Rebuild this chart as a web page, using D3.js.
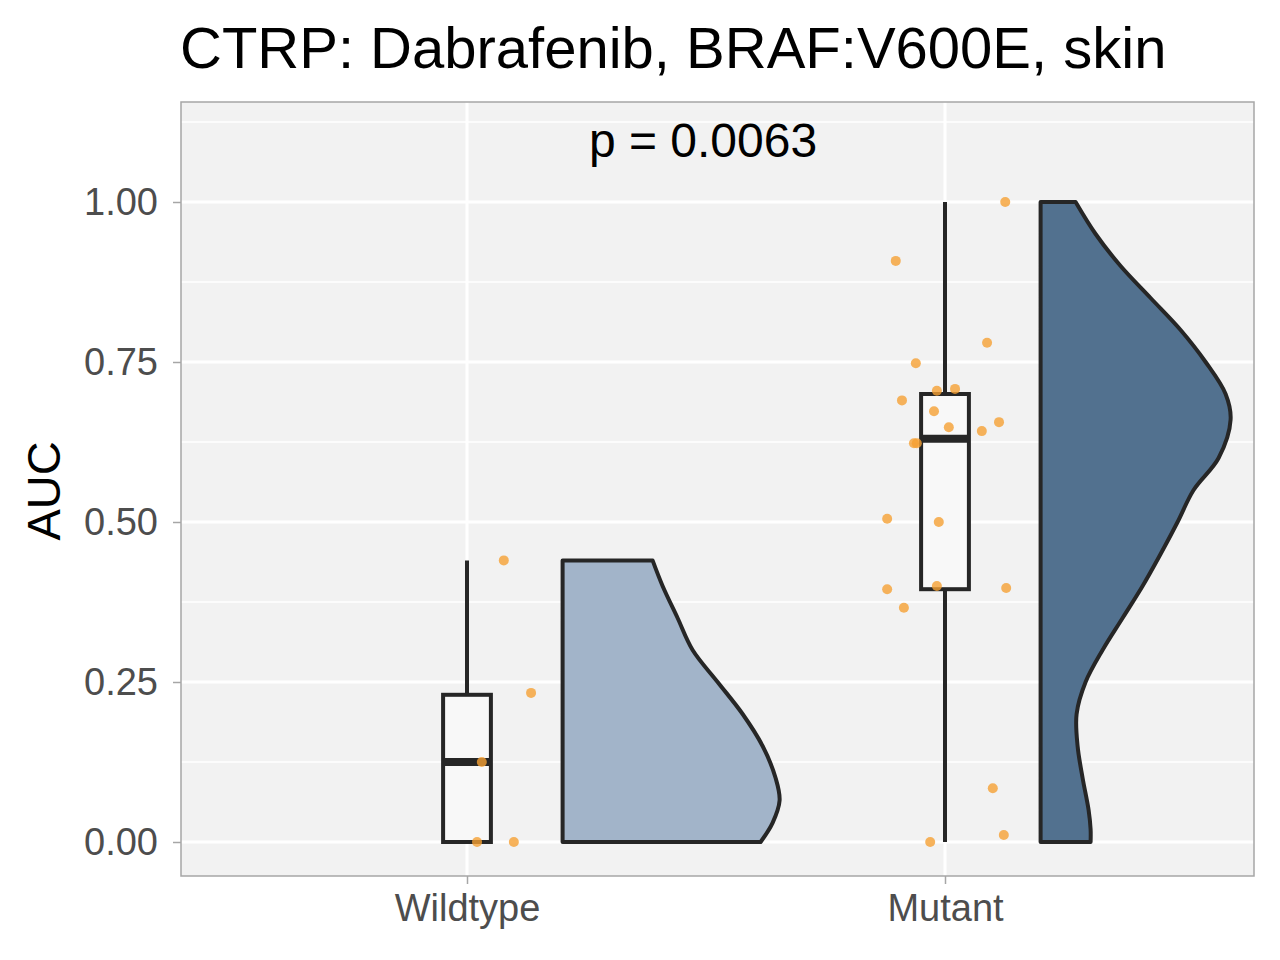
<!DOCTYPE html>
<html><head><meta charset="utf-8">
<script src="https://cdn.jsdelivr.net/npm/d3@7"></script>
<style>body{margin:0;background:#fff;font-family:"Liberation Sans",Arial,sans-serif;}</style>
</head><body>
<script>
var width = 1280, height = 960;
var categories = ["Wildtype", "Mutant"];
var yTicks = [0, 0.25, 0.5, 0.75, 1.0];
var yMinor = [0.125, 0.375, 0.625, 0.875, 1.125];

// box stats: [min, q1, median, q3, max]
var boxStats = [[0, 0, 0.125, 0.23, 0.44], [0, 0.395, 0.63, 0.70, 1.0]];

// half-violin profiles (y value, density width)
var violinY = [
  [0, 0.03, 0.065, 0.10, 0.15, 0.20, 0.25, 0.30, 0.35, 0.40, 0.44],
  [0, 0.02, 0.05, 0.10, 0.15, 0.20, 0.25, 0.30, 0.35, 0.40, 0.45, 0.50, 0.55, 0.60, 0.66, 0.70, 0.75, 0.80, 0.85, 0.90, 0.95, 1.0]
];
var violinD = [
  [198, 210, 217, 213, 200, 180, 155, 130, 115, 100, 90],
  [50, 50, 48, 42, 37, 36, 45, 62, 82, 102, 120, 137, 153, 178, 190, 185, 165, 140, 110, 80, 55, 35]
];
var violinFill = ["#a2b4c9", "#52718f"];

// points: values and jitter
var wtAUC = [0, 0, 0.125, 0.233, 0.44];
var wtJit = [0.021, 0.098, 0.031, 0.134, 0.077];
var mutAUC = [0.908, 1.0, 0.78, 0.748, 0.705, 0.708, 0.69, 0.673, 0.648, 0.642, 0.656, 0.623, 0.623, 0.505, 0.5, 0.395, 0.366, 0.40, 0.397, 0.084, 0.011, 0];
var mutJit = [-0.103, 0.126, 0.088, -0.061, -0.017, 0.021, -0.090, -0.023, 0.008, 0.077, 0.113, -0.065, -0.059, -0.121, -0.013, -0.121, -0.086, -0.017, 0.128, 0.100, 0.123, -0.031];

var panel = {l: 181, t: 102, r: 1254, b: 876};

var svg = d3.select("body").append("svg").attr("width", width).attr("height", height);

var x = d3.scaleLinear().domain([1, 2]).range([467, 945]);
var y = d3.scaleLinear().domain([0, 1]).range([842, 202]);
var w = d3.scaleLinear().domain([0, 478]).range([0, 1]);

svg.append("rect").attr("x", panel.l).attr("y", panel.t)
  .attr("width", panel.r - panel.l).attr("height", panel.b - panel.t).attr("fill", "#f2f2f2");

var g = svg.append("g");
g.selectAll(".minor").data(yMinor).enter().append("line")
  .attr("x1", panel.l).attr("x2", panel.r).attr("y1", d => y(d)).attr("y2", d => y(d))
  .attr("stroke", "#fff").attr("stroke-width", 1.5);
g.selectAll(".major").data(yTicks).enter().append("line")
  .attr("x1", panel.l).attr("x2", panel.r).attr("y1", d => y(d)).attr("y2", d => y(d))
  .attr("stroke", "#fff").attr("stroke-width", 3);
g.selectAll(".vx").data([1, 2]).enter().append("line")
  .attr("x1", d => x(d)).attr("x2", d => x(d)).attr("y1", panel.t).attr("y2", panel.b)
  .attr("stroke", "#fff").attr("stroke-width", 3);

// violins
var line = d3.line().curve(d3.curveCatmullRom);
violinY.forEach(function(ys, i) {
  var base = i + 1 + 0.2;
  var pts = [];
  ys.forEach(function(v, j) { pts.push([x(base + w(violinD[i][j])), y(v)]); });
  var path = "M" + x(base) + "," + y(ys[ys.length - 1]) + "L" + x(base) + "," + y(ys[0]) +
    "L" + line(pts).slice(1) + "Z";
  g.append("path").attr("d", path).attr("fill", violinFill[i])
    .attr("stroke", "#262626").attr("stroke-width", 4).attr("stroke-linejoin", "round");
});

// boxes
boxStats.forEach(function(s, i) {
  var c = i + 1, hw = 0.05;
  g.append("line").attr("x1", x(c)).attr("x2", x(c)).attr("y1", y(s[0])).attr("y2", y(s[4]))
    .attr("stroke", "#262626").attr("stroke-width", 4);
  g.append("rect").attr("x", x(c - hw)).attr("y", y(s[3]))
    .attr("width", x(c + hw) - x(c - hw)).attr("height", y(s[1]) - y(s[3]))
    .attr("fill", "#f8f8f8").attr("stroke", "#262626").attr("stroke-width", 4);
  g.append("line").attr("x1", x(c - hw)).attr("x2", x(c + hw)).attr("y1", y(s[2])).attr("y2", y(s[2]))
    .attr("stroke", "#262626").attr("stroke-width", 8);
});

// points
function dots(vals, jit, c) {
  g.selectAll(null).data(vals).enter().append("circle")
    .attr("cx", (d, i) => x(c + jit[i])).attr("cy", d => y(d)).attr("r", 5)
    .attr("fill", "#f5a033").attr("fill-opacity", 0.8);
}
dots(wtAUC, wtJit, 1);
dots(mutAUC, mutJit, 2);

svg.append("rect").attr("x", panel.l).attr("y", panel.t)
  .attr("width", panel.r - panel.l).attr("height", panel.b - panel.t)
  .attr("fill", "none").attr("stroke", "#a6a6a6").attr("stroke-width", 1.5);

// axes
var yAxis = svg.append("g").attr("transform", "translate(" + panel.l + ",0)")
  .call(d3.axisLeft(y).tickValues(yTicks).tickFormat(d3.format(".2f")).tickSize(8).tickPadding(15));
var xAxis = svg.append("g").attr("transform", "translate(0," + panel.b + ")")
  .call(d3.axisBottom(x).tickValues([1, 2]).tickFormat(d => categories[d - 1]).tickSize(8).tickPadding(10));
[yAxis, xAxis].forEach(function(a) {
  a.select(".domain").remove();
  a.selectAll(".tick line").attr("stroke", "#a6a6a6").attr("stroke-width", 1.5);
  a.selectAll("text").attr("fill", "#4d4d4d").style("font-size", "38px")
    .style("font-family", "Liberation Sans, Arial, sans-serif");
});

svg.append("text").attr("x", 180).attr("y", 68).text("CTRP: Dabrafenib, BRAF:V600E, skin")
  .style("font-size", "58px").attr("fill", "#000");
svg.append("text").attr("transform", "translate(60,491) rotate(-90)").attr("text-anchor", "middle")
  .text("AUC").style("font-size", "47px");
svg.append("text").attr("x", 703).attr("y", 157).attr("text-anchor", "middle")
  .text("p = 0.0063").style("font-size", "48px");
</script>
</body></html>
